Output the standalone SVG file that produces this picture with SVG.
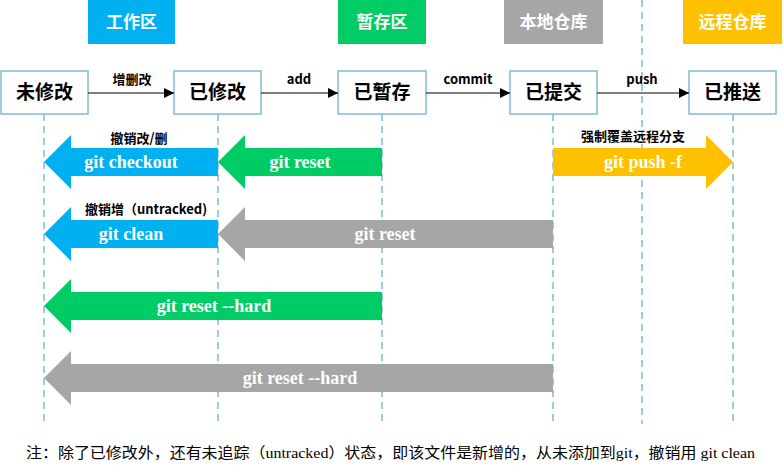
<svg xmlns="http://www.w3.org/2000/svg" width="784" height="472" viewBox="0 0 784 472">
<defs>
<marker id="ah" markerWidth="10" markerHeight="10" refX="10" refY="5" orient="auto" markerUnits="userSpaceOnUse">
<path d="M0,0 L10,5 L0,10 Z" fill="#000"/>
</marker>
<style>
.hdr{font-family:"Noto Sans CJK SC","Noto Sans",sans-serif;font-weight:bold;font-size:17px;fill:#fff;text-anchor:middle}
.node rect{fill:#fff;stroke:#7FBCD2;stroke-width:1.5}
.node text{font-family:"Noto Sans CJK SC","Noto Sans",sans-serif;font-weight:bold;font-size:19px;fill:#000;text-anchor:middle}
.guide{stroke:#7FBCD2;stroke-width:1.5;stroke-dasharray:7,5;fill:none}
.conn{stroke:#000;stroke-width:1.2;fill:none}
.lbl{font-family:"Noto Sans CJK SC","Noto Sans",sans-serif;font-weight:bold;font-size:13px;fill:#000;text-anchor:middle}
.cmd{font-family:"Liberation Serif","Times New Roman",serif;font-weight:bold;font-size:18px;fill:#fff;text-anchor:middle}
.note{font-family:"Liberation Serif","Noto Sans CJK SC",serif;font-size:15px;fill:#000}
</style>
</defs>
<rect width="784" height="472" fill="#fff"/>

<g id="guides">
<line class="guide" x1="44" y1="114" x2="44" y2="424"/>
<line class="guide" x1="218" y1="114" x2="218" y2="424"/>
<line class="guide" x1="382" y1="114" x2="382" y2="424"/>
<line class="guide" x1="553" y1="114" x2="553" y2="424"/>
<line class="guide" x1="642" y1="0" x2="642" y2="424"/>
<line class="guide" x1="733" y1="114" x2="733" y2="424"/>
</g>

<g id="header-workspace"><rect x="88" y="0" width="87" height="44" fill="#00B0F0"/><text class="hdr" x="131.5" y="28">工作区</text></g>
<g id="header-stage"><rect x="338" y="0" width="88" height="44" fill="#00CC66"/><text class="hdr" x="382" y="28">暂存区</text></g>
<g id="header-local"><rect x="504" y="0" width="99" height="44" fill="#A6A6A6"/><text class="hdr" x="553.5" y="28">本地仓库</text></g>
<g id="header-remote"><rect x="683" y="0" width="99" height="44" fill="#FFC000"/><text class="hdr" x="732.5" y="28">远程仓库</text></g>

<g id="n-unmodified" class="node"><rect x="1" y="71" width="87" height="43"/><text x="44.5" y="99">未修改</text></g>
<g id="n-modified" class="node"><rect x="174" y="71" width="87" height="43"/><text x="217.5" y="99">已修改</text></g>
<g id="n-staged" class="node"><rect x="338" y="71" width="88" height="43"/><text x="382" y="99">已暂存</text></g>
<g id="n-committed" class="node"><rect x="510" y="71" width="87" height="43"/><text x="553.5" y="99">已提交</text></g>
<g id="n-pushed" class="node"><rect x="689" y="71" width="87" height="43"/><text x="732.5" y="99">已推送</text></g>

<g id="connectors">
<line class="conn" x1="88" y1="93" x2="174" y2="93" marker-end="url(#ah)"/>
<line class="conn" x1="261" y1="93" x2="338" y2="93" marker-end="url(#ah)"/>
<line class="conn" x1="426" y1="93" x2="510" y2="93" marker-end="url(#ah)"/>
<line class="conn" x1="597" y1="93" x2="689" y2="93" marker-end="url(#ah)"/>
<text class="lbl" x="132" y="84">增删改</text>
<text class="lbl" x="299" y="84">add</text>
<text class="lbl" x="468" y="84">commit</text>
<text class="lbl" x="642" y="84">push</text>

<path d="M218,148 L71,148 L71,135 L44,162 L71,189 L71,176 L218,176 Z" fill="#00B0F0"/>
<text class="cmd" x="131" y="168">git checkout</text>
<text class="lbl" x="139" y="143">撤销改/删</text>

<path d="M382,148 L245,148 L245,135 L218,162 L245,189 L245,176 L382,176 Z" fill="#00CC66"/>
<text class="cmd" x="300" y="168">git reset</text>

<path d="M553,148 L706,148 L706,135 L733,162 L706,189 L706,176 L553,176 Z" fill="#FFC000"/>
<text class="cmd" x="643" y="168">git push -f</text>
<text class="lbl" x="633" y="141">强制覆盖远程分支</text>

<path d="M218,220 L71,220 L71,207 L44,234 L71,261 L71,248 L218,248 Z" fill="#00B0F0"/>
<text class="cmd" x="131" y="240">git clean</text>
<text class="lbl" x="146" y="214">撤销增（untracked)</text>

<path d="M553,220 L245,220 L245,207 L218,234 L245,261 L245,248 L553,248 Z" fill="#A6A6A6"/>
<text class="cmd" x="385" y="240">git reset</text>

<path d="M382,292 L71,292 L71,279 L44,306 L71,333 L71,320 L382,320 Z" fill="#00CC66"/>
<text class="cmd" x="214" y="312">git reset --hard</text>

<path d="M553,364 L71,364 L71,351 L44,378 L71,405 L71,392 L553,392 Z" fill="#A6A6A6"/>
<text class="cmd" x="300" y="384">git reset --hard</text>
</g>

<text class="note" x="26" y="458" textLength="729" lengthAdjust="spacingAndGlyphs">注：除了已修改外，还有未追踪（untracked）状态，即该文件是新增的，从未添加到git，撤销用 git clean</text>
</svg>
